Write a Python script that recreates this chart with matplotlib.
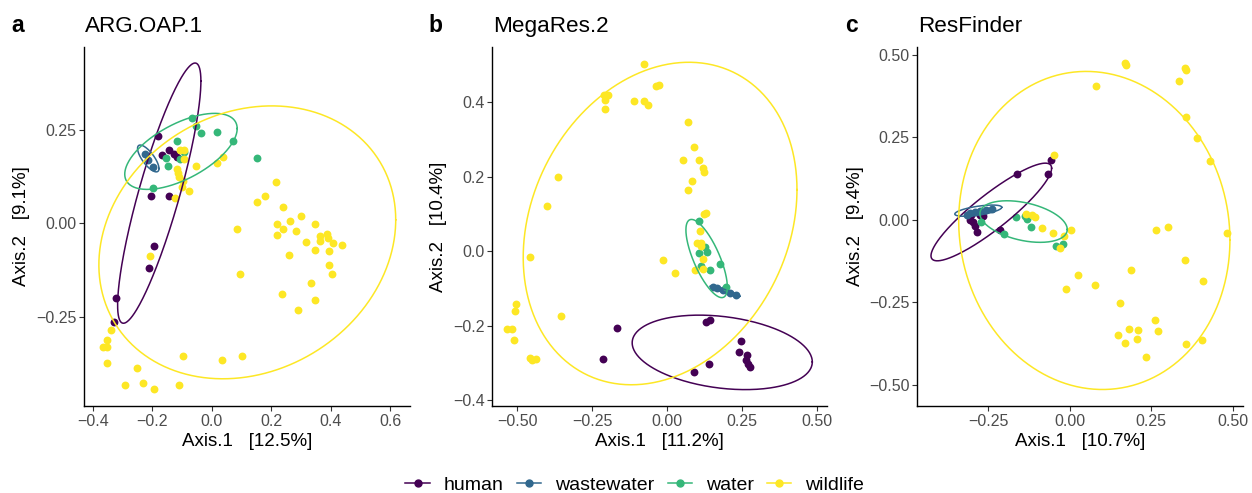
import numpy as np
import matplotlib
matplotlib.use("Agg")
import matplotlib.pyplot as plt
from matplotlib.lines import Line2D

plt.rcParams['font.family'] = ['Liberation Sans', 'DejaVu Sans']

groups = ["human", "wastewater", "water", "wildlife"]
colors = ["#440154", "#31688E", "#35B779", "#FDE725"]

# ---- panel a : ARG.OAP.1 ----
a_human = np.array([
    [-0.180, 0.234], [-0.169, 0.183], [-0.143, 0.197], [-0.128, 0.186], [-0.117, 0.177],
    [-0.206, 0.073], [-0.143, 0.073], [-0.194, -0.061], [-0.212, -0.120],
    [-0.323, -0.200], [-0.328, -0.266]])
a_wastewater = np.array([[-0.225, 0.185], [-0.214, 0.170], [-0.197, 0.150]])
a_water = np.array([
    [-0.068, 0.282], [-0.052, 0.261], [-0.035, 0.241], [0.018, 0.244], [0.072, 0.221],
    [0.152, 0.174], [-0.119, 0.221], [-0.094, 0.192], [-0.156, 0.176], [-0.108, 0.172],
    [-0.149, 0.155], [-0.197, 0.094]])
a_wildlife = np.array([
    [-0.108, 0.197], [-0.094, 0.197], [-0.093, 0.172], [-0.117, 0.145], [-0.113, 0.134],
    [-0.111, 0.123], [-0.096, 0.113], [-0.099, 0.097], [-0.076, 0.087], [-0.124, 0.067],
    [-0.055, 0.155], [0.016, 0.161], [0.036, 0.177], [0.217, 0.111], [0.178, 0.073],
    [0.150, 0.058], [0.239, 0.045], [0.298, 0.020], [0.220, -0.002], [0.261, 0.005],
    [0.238, -0.014], [0.282, -0.020], [0.348, -0.002], [0.220, -0.032], [0.315, -0.049],
    [0.363, -0.034], [0.388, -0.029], [0.363, -0.047], [0.391, -0.040], [0.408, -0.054],
    [0.436, -0.057], [0.345, -0.071], [0.394, -0.075], [0.260, -0.086], [0.086, -0.014],
    [0.094, -0.136], [0.393, -0.113], [0.404, -0.136], [0.333, -0.160], [0.235, -0.190],
    [0.347, -0.206], [0.288, -0.232], [-0.097, -0.356], [0.034, -0.366], [0.100, -0.356],
    [-0.253, -0.388], [-0.292, -0.433], [-0.231, -0.427], [-0.195, -0.445], [-0.112, -0.433],
    [-0.339, -0.286], [-0.352, -0.313], [-0.365, -0.333], [-0.354, -0.333], [-0.354, -0.374],
    [-0.208, -0.087]])
# ellipse: centre x, centre y, half x-extent, half y-extent, correlation
a_ellipses = [(-0.177, 0.081, 0.140, 0.349, 0.86),
              (-0.214, 0.174, 0.036, 0.036, -0.75),
              (-0.104, 0.193, 0.189, 0.102, 0.60),
              (0.119, -0.051, 0.499, 0.366, 0.165)]

# ---- panel b : MegaRes.2 ----
b_human = np.array([
    [-0.167, -0.206], [-0.213, -0.291], [0.129, -0.191], [0.142, -0.186], [0.246, -0.241],
    [0.240, -0.271], [0.264, -0.278], [0.262, -0.293], [0.270, -0.302], [0.276, -0.311],
    [0.140, -0.302], [0.088, -0.325]])
b_wastewater = np.array([[0.153, -0.096], [0.164, -0.098], [0.187, -0.105],
                         [0.209, -0.112], [0.228, -0.117]])
b_water = np.array([
    [0.106, 0.081], [0.126, 0.010], [0.131, -0.002], [0.107, -0.004], [0.176, -0.035],
    [0.111, -0.040], [0.142, -0.051], [0.196, -0.096]])
b_wildlife = np.array([
    [-0.079, 0.502], [-0.210, 0.420], [-0.197, 0.418], [-0.206, 0.406], [-0.206, 0.382],
    [-0.110, 0.402], [-0.079, 0.404], [-0.063, 0.391], [-0.039, 0.442], [-0.028, 0.447],
    [0.068, 0.346], [0.090, 0.279], [0.106, 0.244], [0.052, 0.244], [0.120, 0.222],
    [0.123, 0.213], [0.081, 0.187], [0.068, 0.163], [0.128, 0.103], [0.123, 0.099],
    [0.109, 0.055], [0.100, 0.021], [0.112, 0.023], [0.111, 0.013], [0.120, -0.020],
    [-0.016, -0.024], [0.026, -0.058], [0.092, -0.051], [0.120, -0.048],
    [-0.363, 0.200], [-0.402, 0.122], [-0.458, -0.015], [-0.354, -0.174], [-0.504, -0.141],
    [-0.508, -0.161], [-0.533, -0.208], [-0.516, -0.208], [-0.510, -0.240], [-0.458, -0.287],
    [-0.452, -0.293], [-0.436, -0.289]])
b_ellipses = [(0.183, -0.272, 0.300, 0.100, -0.256),
              (0.192, -0.108, 0.050, 0.0143, -0.94),
              (0.131, -0.020, 0.069, 0.105, -0.73),
              (-0.024, 0.074, 0.456, 0.433, 0.21)]

# ---- panel c : ResFinder ----
c_human = np.array([
    [-0.057, 0.182], [-0.161, 0.140], [-0.066, 0.140], [-0.215, -0.030], [-0.286, -0.038],
    [-0.291, -0.020], [-0.297, -0.005], [-0.302, 0.015], [-0.276, 0.015], [-0.307, 0.000],
    [-0.266, 0.012]])
c_wastewater = np.array([[-0.307, 0.020], [-0.291, 0.025], [-0.276, 0.028],
                         [-0.256, 0.030], [-0.240, 0.032], [-0.317, 0.015]])
c_water = np.array([
    [-0.164, 0.010], [-0.138, 0.012], [-0.131, 0.002], [-0.119, -0.023], [-0.201, -0.043],
    [-0.273, -0.007], [-0.043, -0.078], [-0.022, -0.074]])
c_wildlife = np.array([
    [0.170, 0.476], [0.172, 0.469], [0.354, 0.461], [0.356, 0.453], [0.335, 0.420],
    [0.080, 0.407], [0.356, 0.311], [0.391, 0.248], [0.429, 0.179], [-0.048, 0.197],
    [0.483, -0.041], [0.263, -0.030], [0.301, -0.022], [0.352, -0.121], [0.409, -0.184],
    [0.187, -0.152], [0.026, -0.168], [0.077, -0.198], [-0.011, -0.210], [0.154, -0.253],
    [0.261, -0.304], [0.271, -0.337], [0.182, -0.332], [0.208, -0.334], [0.147, -0.349],
    [0.170, -0.374], [0.207, -0.361], [0.233, -0.416], [0.355, -0.376], [0.404, -0.363],
    [-0.135, 0.018], [-0.115, 0.015], [-0.107, 0.008], [-0.087, -0.025], [-0.053, -0.040],
    [-0.018, -0.049], [0.003, -0.032], [-0.031, -0.084]])
c_ellipses = [(-0.241, 0.024, 0.185, 0.148, 0.896),
              (-0.281, 0.028, 0.072, 0.017, 0.60),
              (-0.142, -0.005, 0.134, 0.063, -0.38),
              (0.075, -0.032, 0.416, 0.482, -0.06)]

panels = [
    dict(letter="a", title="ARG.OAP.1", pts=[a_human, a_wastewater, a_water, a_wildlife],
         ell=a_ellipses, xlab="Axis.1   [12.5%]", ylab="Axis.2   [9.1%]",
         xlim=(-0.43, 0.666), ylim=(-0.49, 0.473),
         xticks=[-0.4, -0.2, 0.0, 0.2, 0.4, 0.6], xdec=1,
         yticks=[-0.25, 0.0, 0.25], ydec=2,
         box=(84, 410), ylabx=21.5, letx=11),
    dict(letter="b", title="MegaRes.2", pts=[b_human, b_wastewater, b_water, b_wildlife],
         ell=b_ellipses, xlab="Axis.1   [11.2%]", ylab="Axis.2   [10.4%]",
         xlim=(-0.583, 0.531), ylim=(-0.416, 0.548),
         xticks=[-0.5, -0.25, 0.0, 0.25, 0.5], xdec=2,
         yticks=[-0.4, -0.2, 0.0, 0.2, 0.4], ydec=1,
         box=(492.3, 826.7), ylabx=439, letx=428),
    dict(letter="c", title="ResFinder", pts=[c_human, c_wastewater, c_water, c_wildlife],
         ell=c_ellipses, xlab="Axis.1   [10.7%]", ylab="Axis.2   [9.4%]",
         xlim=(-0.468, 0.532), ylim=(-0.564, 0.524),
         xticks=[-0.25, 0.0, 0.25, 0.5], xdec=2,
         yticks=[-0.5, -0.25, 0.0, 0.25, 0.5], ydec=2,
         box=(917.3, 1243.3), ylabx=855, letx=845),
]

W, H = 1252, 493
fig = plt.figure(figsize=(W / 100, H / 100), dpi=100)
top_px, bot_px = 47, 406


def fmt(v, d):
    s = f"{v:.{d}f}"
    if v < 0:
        s = "\u2212" + s[1:]
    return s


t = np.linspace(0, 2 * np.pi, 300)
for p in panels:
    x0, x1 = p["box"]
    ax = fig.add_axes((x0 / W, 1 - bot_px / H, (x1 - x0) / W, (bot_px - top_px) / H))
    for pts, col in zip(p["pts"], colors):
        ax.scatter(pts[:, 0], pts[:, 1], s=32, color=col, linewidths=0, zorder=2)
    for (cx, cy, hx, hy, r), col in zip(p["ell"], colors):
        ex = cx + hx * np.cos(t)
        ey = cy + hy * (r * np.cos(t) + np.sqrt(1 - r ** 2) * np.sin(t))
        ax.plot(ex, ey, color=col, lw=1.1, zorder=3)
    ax.set_xlim(p["xlim"])
    ax.set_ylim(p["ylim"])
    ax.set_xticks(p["xticks"])
    ax.set_xticklabels([fmt(v, p["xdec"]) for v in p["xticks"]])
    ax.set_yticks(p["yticks"])
    ax.set_yticklabels([fmt(v, p["ydec"]) for v in p["yticks"]])
    for side in ("top", "right"):
        ax.spines[side].set_visible(False)
    for side in ("left", "bottom"):
        ax.spines[side].set_linewidth(1.0)
        ax.spines[side].set_color("black")
    ax.tick_params(axis="both", length=3.5, width=0.8, color="#333333",
                   labelcolor="#4D4D4D", labelsize=11.5, pad=2)
    xc = (x0 + x1) / 2
    fig.text(xc / W, 1 - 442 / H, p["xlab"], ha="center", va="center", fontsize=13.5)
    fig.text(p["ylabx"] / W, 1 - 226.5 / H, p["ylab"], ha="center", va="center",
             rotation=90, fontsize=13.5)
    fig.text((x0 + 1) / W, 1 - 32 / H, p["title"], ha="left", va="baseline", fontsize=16.2)
    fig.text(p["letx"] / W, 1 - 32 / H, p["letter"], ha="left", va="baseline",
             fontsize=16.5, fontweight="bold")

handles = [Line2D([], [], color=c, lw=1.1, marker="o", markersize=5) for c in colors]
fig.legend(handles, groups, loc="center", bbox_to_anchor=(634.7 / W, 1 - 485 / H),
           ncol=4, frameon=False, fontsize=14, handlelength=1.25, handletextpad=0.7,
           columnspacing=0.7, borderpad=0)

fig.savefig("out.png", dpi=100)
